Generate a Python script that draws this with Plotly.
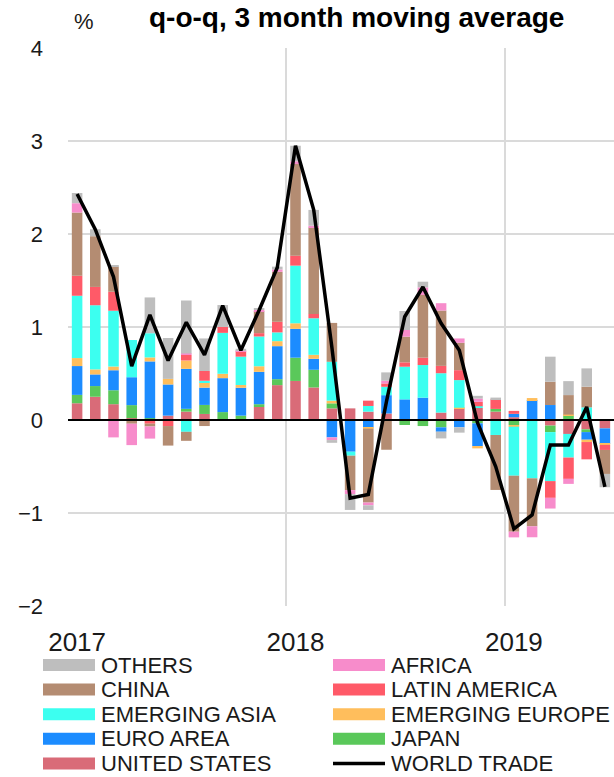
import plotly.graph_objects as go

# ---------------- data ----------------
months = ["2017-01", "2017-02", "2017-03", "2017-04", "2017-05", "2017-06",
          "2017-07", "2017-08", "2017-09", "2017-10", "2017-11", "2017-12",
          "2018-01", "2018-02", "2018-03", "2018-04", "2018-05", "2018-06",
          "2018-07", "2018-08", "2018-09", "2018-10", "2018-11", "2018-12",
          "2019-01", "2019-02", "2019-03", "2019-04", "2019-05", "2019-06"]

tick_labels = ["2017", "2018", "2019"]

united_states = [0.18, 0.25, 0.17, 0.02, 0.0, 0.047, 0.09, 0.065, 0.0, 0.0, 0.14, 0.375,
                 0.42, 0.35, 0.125, 0.125, 0.09, 0.07, 0.0, 0.0, 0.08, 0.125, 0.13, 0.09,
                 0.03, 0.0, -0.06, -0.15, -0.10, -0.09]
japan = [0.09, 0.115, 0.15, 0.14, 0.02, 0.0, 0.03, 0.097, 0.085, 0.047, 0.03, 0.064,
         0.25, 0.19, 0.054, 0.0, 0.0, 0.0, -0.054, -0.065, -0.079, 0.0, -0.036, 0.029,
         -0.054, 0.0, -0.07, 0.05, -0.03, 0.0]
euro_area = [0.31, 0.125, 0.215, 0.30, 0.61, 0.335, 0.43, 0.186, 0.365, 0.30, 0.348, 0.355,
             0.31, 0.118, -0.187, -0.341, -0.082, 0.197, 0.222, 0.24, -0.047, -0.079, -0.244, 0.0,
             0.036, 0.215, 0.161, 0.0, -0.082, -0.168]
emerging_europe = [0.086, 0.054, 0.04, 0.0, 0.043, 0.06, 0.09, 0.054, 0.047, 0.029, 0.06, 0.054,
                   0.06, 0.043, 0.029, 0.0, -0.011, 0.0, 0.0, 0.0, 0.0, 0.007, -0.025, 0.0,
                   -0.018, 0.021, 0.0, 0.008, -0.025, -0.01]
emerging_asia = [0.67, 0.69, 0.60, 0.40, 0.26, 0.0, -0.127, 0.02, 0.44, 0.305, 0.32, 0.094,
                 0.62, 0.393, 0.418, -0.043, 0.061, 0.09, 0.351, 0.351, 0.423, 0.297, 0.018, -0.161,
                 -0.527, -0.627, -0.527, -0.254, 0.136, 0.0]
latin_america = [0.215, 0.197, 0.204, 0.0, -0.04, -0.065, 0.06, 0.105, 0.064, 0.06, 0.036, 0.114,
                 0.107, 0.047, 0.0, 0.0, 0.057, 0.036, 0.047, 0.079, 0.079, 0.107, 0.047, 0.104,
                 0.032, 0.0, -0.18, -0.229, -0.186, -0.054]
china = [0.68, 0.545, 0.27, -0.04, -0.03, -0.21, -0.097, -0.065, 0.0, 0.0, 0.236, 0.537,
         0.985, 0.93, 0.418, -0.37, -0.795, -0.32, 0.276, 0.674, 0.595, 0.294, 0.0, -0.591,
         -0.602, -0.516, 0.251, 0.21, 0.222, -0.258]
africa = [0.10, 0.0, -0.187, -0.23, -0.13, 0.0, 0.015, 0.0, 0.0, 0.01, 0.014, 0.026,
          0.03, 0.018, -0.029, -0.043, -0.029, 0.029, 0.072, 0.082, 0.079, 0.047, 0.036, 0.0,
          -0.061, -0.118, -0.115, -0.054, 0.0, 0.01]
others = [0.11, 0.075, 0.018, 0.0, 0.385, 0.44, 0.57, 0.35, 0.235, 0.015, 0.015, 0.03,
          0.167, 0.17, -0.029, -0.17, -0.05, 0.09, 0.204, 0.061, -0.072, -0.057, 0.029, 0.018,
          0.0, 0.0, 0.269, 0.15, 0.197, -0.143]
world_trade = [2.43, 2.05, 1.54, 0.58, 1.13, 0.64, 1.05, 0.70, 1.23, 0.75, 1.18, 1.64,
               2.95, 2.26, 0.78, -0.84, -0.80, 0.20, 1.11, 1.43, 1.04, 0.75, -0.03, -0.50,
               -1.17, -1.02, -0.27, -0.27, 0.14, -0.72]

# stacking order (bottom to top)
series = [
    ("UNITED STATES", united_states, "#D96B78"),
    ("JAPAN", japan, "#5AC85A"),
    ("EURO AREA", euro_area, "#1C8CFF"),
    ("EMERGING EUROPE", emerging_europe, "#FFBE5C"),
    ("EMERGING ASIA", emerging_asia, "#3CFFF0"),
    ("LATIN AMERICA", latin_america, "#FF5A68"),
    ("CHINA", china, "#B48C72"),
    ("AFRICA", africa, "#F78CCB"),
    ("OTHERS", others, "#BEBEBE"),
]
line_name = "WORLD TRADE"

# legend layout order (two columns)
legend_left = ["OTHERS", "CHINA", "EMERGING ASIA", "EURO AREA", "UNITED STATES"]
legend_right = ["AFRICA", "LATIN AMERICA", "EMERGING EUROPE", "JAPAN", "WORLD TRADE"]

# ---------------- figure ----------------
W, H = 614, 777
ML, MR, MT, MB = 68, 0, 48, 171
PW, PH = W - ML - MR, H - MT - MB
FONT = "Liberation Sans, Arial, sans-serif"

x = list(range(len(months)))
fig = go.Figure()
for name, vals, color in series:
    fig.add_trace(go.Bar(x=x, y=vals, name=name, marker_color=color,
                         marker_line_width=0, showlegend=False))
fig.add_trace(go.Scatter(x=x, y=world_trade, name=line_name, mode="lines",
                         line=dict(color="black", width=3.5), showlegend=False))

tickpos = [months.index(t + "-01") for t in tick_labels]


def px2paper_x(px):
    return (px - ML) / PW


def px2paper_y(py):
    return (H - MB - py) / PH


colors = {n: c for n, _, c in series}
shapes = []
annotations = []
row_y0, row_dy = 665, 24.6
for col, (names, sw_x) in enumerate([(legend_left, 43), (legend_right, 333)]):
    for r, nm in enumerate(names):
        cy = row_y0 + r * row_dy
        if nm == line_name:
            shapes.append(dict(type="line", xref="paper", yref="paper",
                               x0=px2paper_x(sw_x), x1=px2paper_x(sw_x + 52),
                               y0=px2paper_y(cy), y1=px2paper_y(cy),
                               line=dict(color="black", width=3.5)))
        else:
            shapes.append(dict(type="rect", xref="paper", yref="paper",
                               x0=px2paper_x(sw_x), x1=px2paper_x(sw_x + 52),
                               y0=px2paper_y(cy - 6), y1=px2paper_y(cy + 6),
                               fillcolor=colors[nm], line=dict(width=0)))
        annotations.append(dict(text=nm, xref="paper", yref="paper",
                                x=px2paper_x(sw_x + 56), y=px2paper_y(cy),
                                xanchor="left", yanchor="middle", showarrow=False,
                                font=dict(size=22, color="#1a1a1a", family=FONT)))

# zero line on top of bars
shapes.append(dict(type="line", xref="paper", yref="y", x0=0, x1=1, y0=0, y1=0,
                   line=dict(color="black", width=2.2), layer="above"))

annotations.append(dict(text="q-o-q, 3 month moving average", xref="paper", yref="paper",
                        x=px2paper_x(356), y=px2paper_y(0.5), xanchor="center", yanchor="top",
                        showarrow=False, borderpad=0,
                        font=dict(size=28, color="black", family=FONT, weight="bold")))
annotations.append(dict(text="%", xref="paper", yref="paper",
                        x=px2paper_x(84), y=px2paper_y(22), xanchor="center", yanchor="middle",
                        showarrow=False, font=dict(size=22, color="#1a1a1a", family=FONT)))

fig.update_layout(
    width=W, height=H, autosize=False,
    margin=dict(l=ML, r=MR, t=MT, b=MB, pad=0),
    barmode="relative", bargap=0.42,
    plot_bgcolor="white", paper_bgcolor="white",
    font=dict(family=FONT, color="#1a1a1a"),
    showlegend=False,
    shapes=shapes, annotations=annotations,
    xaxis=dict(range=[-0.5, len(months) - 0.5], tickmode="array", tickvals=tickpos,
               ticktext=tick_labels, showgrid=False, zeroline=False, showline=False,
               ticks="", ticklabelstandoff=18, tickfont=dict(size=26, family=FONT),
               minor=dict(tickmode="array", tickvals=[p - 0.5 for p in tickpos],
                          showgrid=True, gridcolor="#DADADA", gridwidth=1.5, ticks="")),
    yaxis=dict(range=[-2, 4], dtick=1, tick0=0, showgrid=True, gridcolor="#DADADA",
               gridwidth=1.5, zeroline=False, showline=False, ticks="",
               ticklabelstandoff=24, tickfont=dict(size=22, family=FONT)),
)

fig.write_html("out.html", config={"displayModeBar": False},
               post_script="document.body.style.margin='0';")
